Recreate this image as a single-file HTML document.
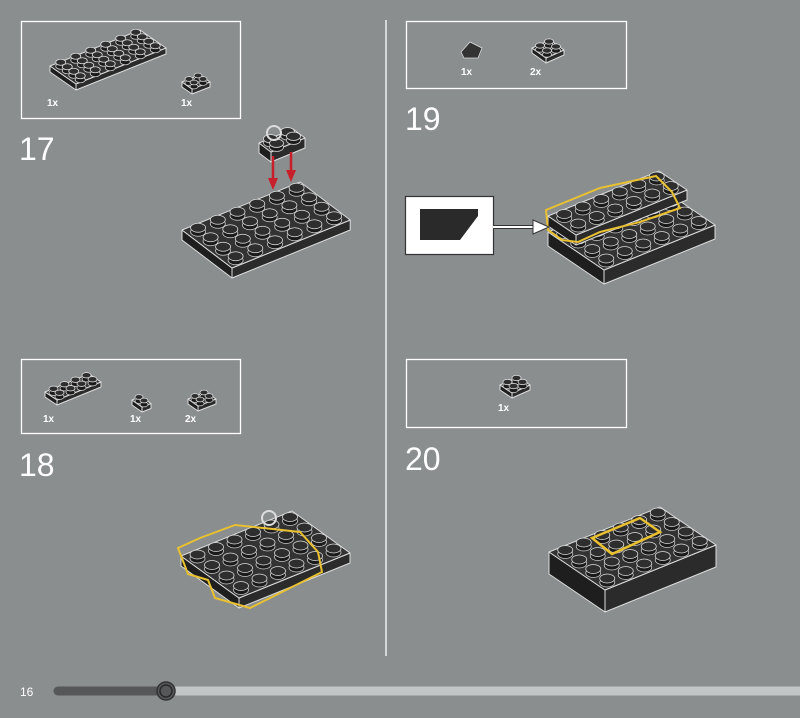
<!DOCTYPE html>
<html><head><meta charset="utf-8"><style>
html,body{margin:0;padding:0;background:#8a8e8f;}
svg{display:block}
text{font-family:"Liberation Sans",sans-serif;fill:#fff}
</style></head><body>
<svg id="s" width="800" height="718" viewBox="0 0 800 718" xmlns="http://www.w3.org/2000/svg">
<rect width="800" height="718" fill="#8a8e8f"/>
<g fill="none" stroke="#fff" stroke-width="1.3">
<rect x="21.5" y="21.5" width="219" height="97"/>
<rect x="406.5" y="21.5" width="220" height="67"/>
<rect x="21.5" y="359.5" width="219" height="74"/>
<rect x="406.5" y="359.5" width="220" height="68"/>
</g>
<line x1="386" y1="20" x2="386" y2="656" stroke="#fff" stroke-width="1.3"/>
<text x="19" y="160" font-size="32">17</text>
<text x="405" y="130" font-size="32">19</text>
<text x="19" y="476" font-size="32">18</text>
<text x="405" y="470" font-size="32">20</text>
<g font-size="10" font-weight="bold">
<text x="47" y="106">1x</text><text x="181" y="106">1x</text>
<text x="461" y="75">1x</text><text x="530" y="75">2x</text>
<text x="43" y="422">1x</text><text x="130" y="422">1x</text><text x="185" y="422">2x</text>
<text x="498" y="411">1x</text>
</g>
<g id="parts"></g>
<rect x="405.5" y="196.5" width="88" height="58" fill="#fff" stroke="#333" stroke-width="1.2"/>
<polygon points="420,209 478,209 478,216 460,240 420,240" fill="#2a2a2a"/>
<line x1="493" y1="227" x2="535" y2="227" stroke="#333" stroke-width="4"/>
<line x1="493" y1="227" x2="535" y2="227" stroke="#fff" stroke-width="2"/>
<polygon points="533,220 549,227 533,234" fill="#fff" stroke="#333" stroke-width="1"/>
<text x="20" y="696" font-size="12">16</text>
<line x1="58" y1="691" x2="166" y2="691" stroke="#555758" stroke-width="9" stroke-linecap="round"/>
<line x1="166" y1="691" x2="800" y2="691" stroke="#c2c6c7" stroke-width="9"/>
<circle cx="166" cy="691" r="9" fill="#555758" stroke="#333" stroke-width="1.5"/>
<circle cx="166" cy="691" r="6" fill="none" stroke="#2a2a2a" stroke-width="1.5"/>
</svg>
<script>
const g=document.getElementById('parts');let h='';
function plate(ax,ay,ux,uy,vx,vy,nu,nv,t,studs=true,rx=7.5){
 const P=(i,j)=>[ax+i*ux+j*vx,ay+i*uy+j*vy];
 const A=P(0,0),B=P(0,nv),C=P(nu,nv),D=P(nu,0);
 const s='stroke="#ddd" stroke-width="1" stroke-linejoin="round"';
 h+=`<polygon points="${A} ${D} ${D[0]},${D[1]+t} ${A[0]},${A[1]+t}" fill="#1e1e1e" ${s}/>`;
 h+=`<polygon points="${D} ${C} ${C[0]},${C[1]+t} ${D[0]},${D[1]+t}" fill="#2b2b2b" ${s}/>`;
 h+=`<polygon points="${A} ${B} ${C} ${D}" fill="#333" ${s}/>`;
 if(studs)for(let j=nv-1;j>=0;j--)for(let i=0;i<nu;i++){const c=P(i+.5,j+.5);const ry=rx*0.6;
  h+=`<rect x="${c[0]-rx}" y="${c[1]-3}" width="${2*rx}" height="4" fill="#1a1a1a"/>`;
  h+=`<ellipse cx="${c[0]}" cy="${c[1]+1}" rx="${rx}" ry="${ry}" fill="#1a1a1a" stroke="#ccc" stroke-width="0.8"/>`;
  h+=`<ellipse cx="${c[0]}" cy="${c[1]-3}" rx="${rx}" ry="${ry}" fill="#2e2e2e" stroke="#ddd" stroke-width="0.8"/>`;}
}
// step 17
plate(182,230,12.5,9.5,19.7,-8,4,6,10);
plate(259,143,6,4.5,17,-7,2,2,10,true,7);
h+=`<ellipse cx="274" cy="133" rx="7" ry="7" fill="none" stroke="#ddd" stroke-width="2"/>`;
h+=`<line x1="273" y1="156" x2="273" y2="180" stroke="#c8202a" stroke-width="2.5"/><polygon points="268,178 278,178 273,190" fill="#c8202a"/>`;
h+=`<line x1="291" y1="152" x2="291" y2="172" stroke="#c8202a" stroke-width="2.5"/><polygon points="286,170 296,170 291,182" fill="#c8202a"/>`;
// box17 parts
plate(50,66,6.5,4.5,15,-6,4,6,6,true,5);
plate(182,82,5,3.5,9,-3.5,2,2,5,true,4);
// box19 parts
h+=`<polygon points="461,52 470,42 482,48 478,58 464,58" fill="#333" stroke="#ddd" stroke-width="0.8"/>`;
plate(532,48,7,5,9,-4,2,2,5,true,4.5);
// step19 model
plate(548,232,14,9.5,18.5,-7.5,4,6,14);
plate(548,216,14,9.5,18.5,-7.5,2,6,10);
h+=`<polygon points="546,210 600,188 656,176 672,192 680,208 640,222 600,232 578,242 562,240 548,230" fill="none" stroke="#e8c030" stroke-width="2"/>`;
// box18 parts
plate(45,392,6,4,11,-4.5,2,4,5,true,4.5);
plate(132,400,5,3.5,9,-3.5,2,1,5,true,4);
plate(188,399,5,3.5,9,-3.5,2,2,5,true,4);
// step18 model
plate(181,556,14.5,10.5,18.5,-7.5,4,6,10);
h+=`<polygon points="178,548 200,538 235,525 300,532 318,552 322,572 250,608 215,598 208,580 188,574" fill="none" stroke="#e8c030" stroke-width="2"/>`;
h+=`<ellipse cx="269" cy="518" rx="7" ry="7" fill="none" stroke="#ddd" stroke-width="2"/>`;
// box20 part
plate(500,385,6,4,9,-4,2,2,5,true,4.5);
// step20 model
plate(549,552,14,9.5,18.5,-7.5,4,6,22);
h+=`<polygon points="592,538 640,518 660,532 612,554" fill="none" stroke="#e8c030" stroke-width="2.5"/>`;
g.innerHTML=h;
</script>
</body></html>
